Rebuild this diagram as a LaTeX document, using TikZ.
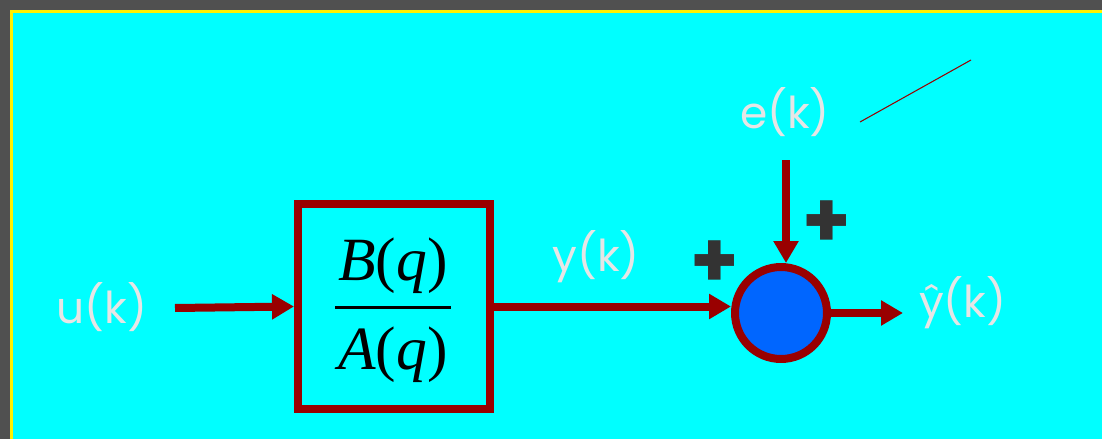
\documentclass[tikz,border=0pt]{standalone}
\usepackage{fontspec}
\setmainfont{Liberation Serif}
\newfontfamily\labelfont{Poppins}
\usetikzlibrary{positioning, arrows.meta, calc}

\definecolor{frameGray}{HTML}{505050}
\definecolor{slideCyan}{HTML}{00FFFF}
\definecolor{sigRed}{HTML}{990000}
\definecolor{sumBlue}{HTML}{0066FF}
\definecolor{labelGray}{HTML}{E6E6E6}
\definecolor{signGray}{HTML}{333333}

\newcommand{\polyof}[1]{\itshape #1\upshape(\itshape q\upshape)}

\begin{document}
\begin{tikzpicture}[
    x=0.02cm, y=-0.02cm,
    block/.style={
        rectangle,
        draw=sigRed,
        line width=0.16cm,
        minimum width=3.84cm,
        minimum height=4.1cm
    },
    poly/.style={
        font=\fontsize{35}{40}\selectfont,
        inner sep=0pt
    },
    sumnode/.style={
        circle,
        draw=sigRed,
        fill=sumBlue,
        line width=0.16cm,
        minimum size=1.84cm
    },
    signal/.style={
        -{Triangle[length=0.44cm, width=0.48cm]},
        line width=0.16cm,
        color=sigRed
    },
    sig_label/.style={
        font=\labelfont\fontsize{25}{28}\selectfont,
        text=labelGray
    },
    sign/.style={
        font=\labelfont\bfseries\fontsize{44}{44}\selectfont,
        text=signGray
    }
]

    % -- Frame --
    \useasboundingbox (0,0) rectangle (1102,439);
    \fill[frameGray] (0,0) rectangle (1102,439);
    \draw[yellow, line width=0.07cm, fill=slideCyan] (11.5,11.5) rectangle (1140,480);

    % -- Plant B(q)/A(q) --
    \node[block] (plant) at (394,306.5) {};
    \node[poly] (num) at (393,266) {\polyof{B}};
    \node[poly] (den) at (393,355) {\polyof{A}};
    \coordinate (bar_l) at (335,307);
    \coordinate (bar_r) at (451,307);
    \draw[line width=0.06cm] (bar_l) -- (bar_r);

    \node[sig_label] (u) at (102,307) {u(k)};
    \coordinate (u_out) at (175,308);

    % -- Summing junction --
    \node[sumnode] (sum) at (781,313) {};
    \node[sig_label] (y) at (596,257) {y(k)};
    \node[sig_label] (e) at (785,112) {e(k)};
    \coordinate (e_out) at (786,160);
    \node[sig_label, anchor=west] (yhat) at (913,303) {ŷ(k)};
    \coordinate (yhat_in) at (903,313);

    \node[sign] (plus_left) at (715,264) {+};
    \node[sign] (plus_top) at (827,224) {+};

    % Signals
    \draw[signal] (u_out) -- (plant.west);
    \draw[signal] (plant.east) -- (plant.east -| sum.west);
    \draw[signal] (e_out) -- (e_out |- sum.north);
    \draw[signal] (sum.east) -- (yhat_in);

    % stray pen stroke
    \coordinate (stroke_a) at (860,122);
    \coordinate (stroke_b) at (971,60);
    \draw[sigRed, line width=0.6pt] (stroke_a) -- (stroke_b);

\end{tikzpicture}
\end{document}
